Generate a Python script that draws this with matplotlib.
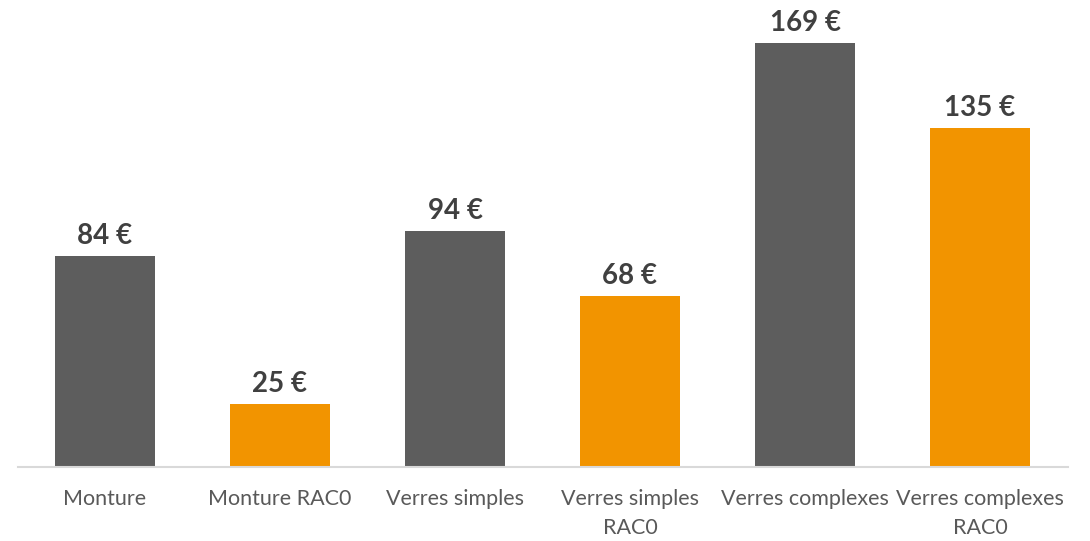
import matplotlib.pyplot as plt

# prix moyens (euros)
categories = ['Monture', 'Monture RAC0', 'Verres simples', 'Verres simples\nRAC0',
              'Verres complexes', 'Verres complexes\nRAC0']
values = [84, 25, 94, 68, 169, 135]
bar_colors = ['#5D5D5D', '#F29400', '#5D5D5D', '#F29400', '#5D5D5D', '#F29400']

plt.rcParams['font.family'] = ['Lato', 'DejaVu Sans']

fig = plt.figure(figsize=(10.9, 5.41), dpi=100)
ax = fig.add_axes([17.5 / 1090, 74 / 541, 1050 / 1090, 451.6 / 541])

x = range(len(categories))
bars = ax.bar(x, values, width=0.57, color=bar_colors)

for b, v in zip(bars, values):
    ax.annotate('{} €'.format(v), (b.get_x() + b.get_width() / 2, v),
                xytext=(0, 5), textcoords='offset points',
                ha='center', va='bottom', fontsize=20, fontweight='bold',
                color='#404040')

ax.set_xlim(-0.5, len(categories) - 0.5)
ax.set_ylim(0, 180)
ax.set_xticks(list(x))
ax.set_xticklabels(categories, fontsize=15.5, color='#595959', linespacing=1.55)
ax.tick_params(axis='x', length=0, pad=16)
ax.set_yticks([])

for s in ['top', 'right', 'left']:
    ax.spines[s].set_visible(False)
ax.spines['bottom'].set_color('#D9D9D9')
ax.spines['bottom'].set_linewidth(1.5)

plt.savefig('out.png', dpi=100)
